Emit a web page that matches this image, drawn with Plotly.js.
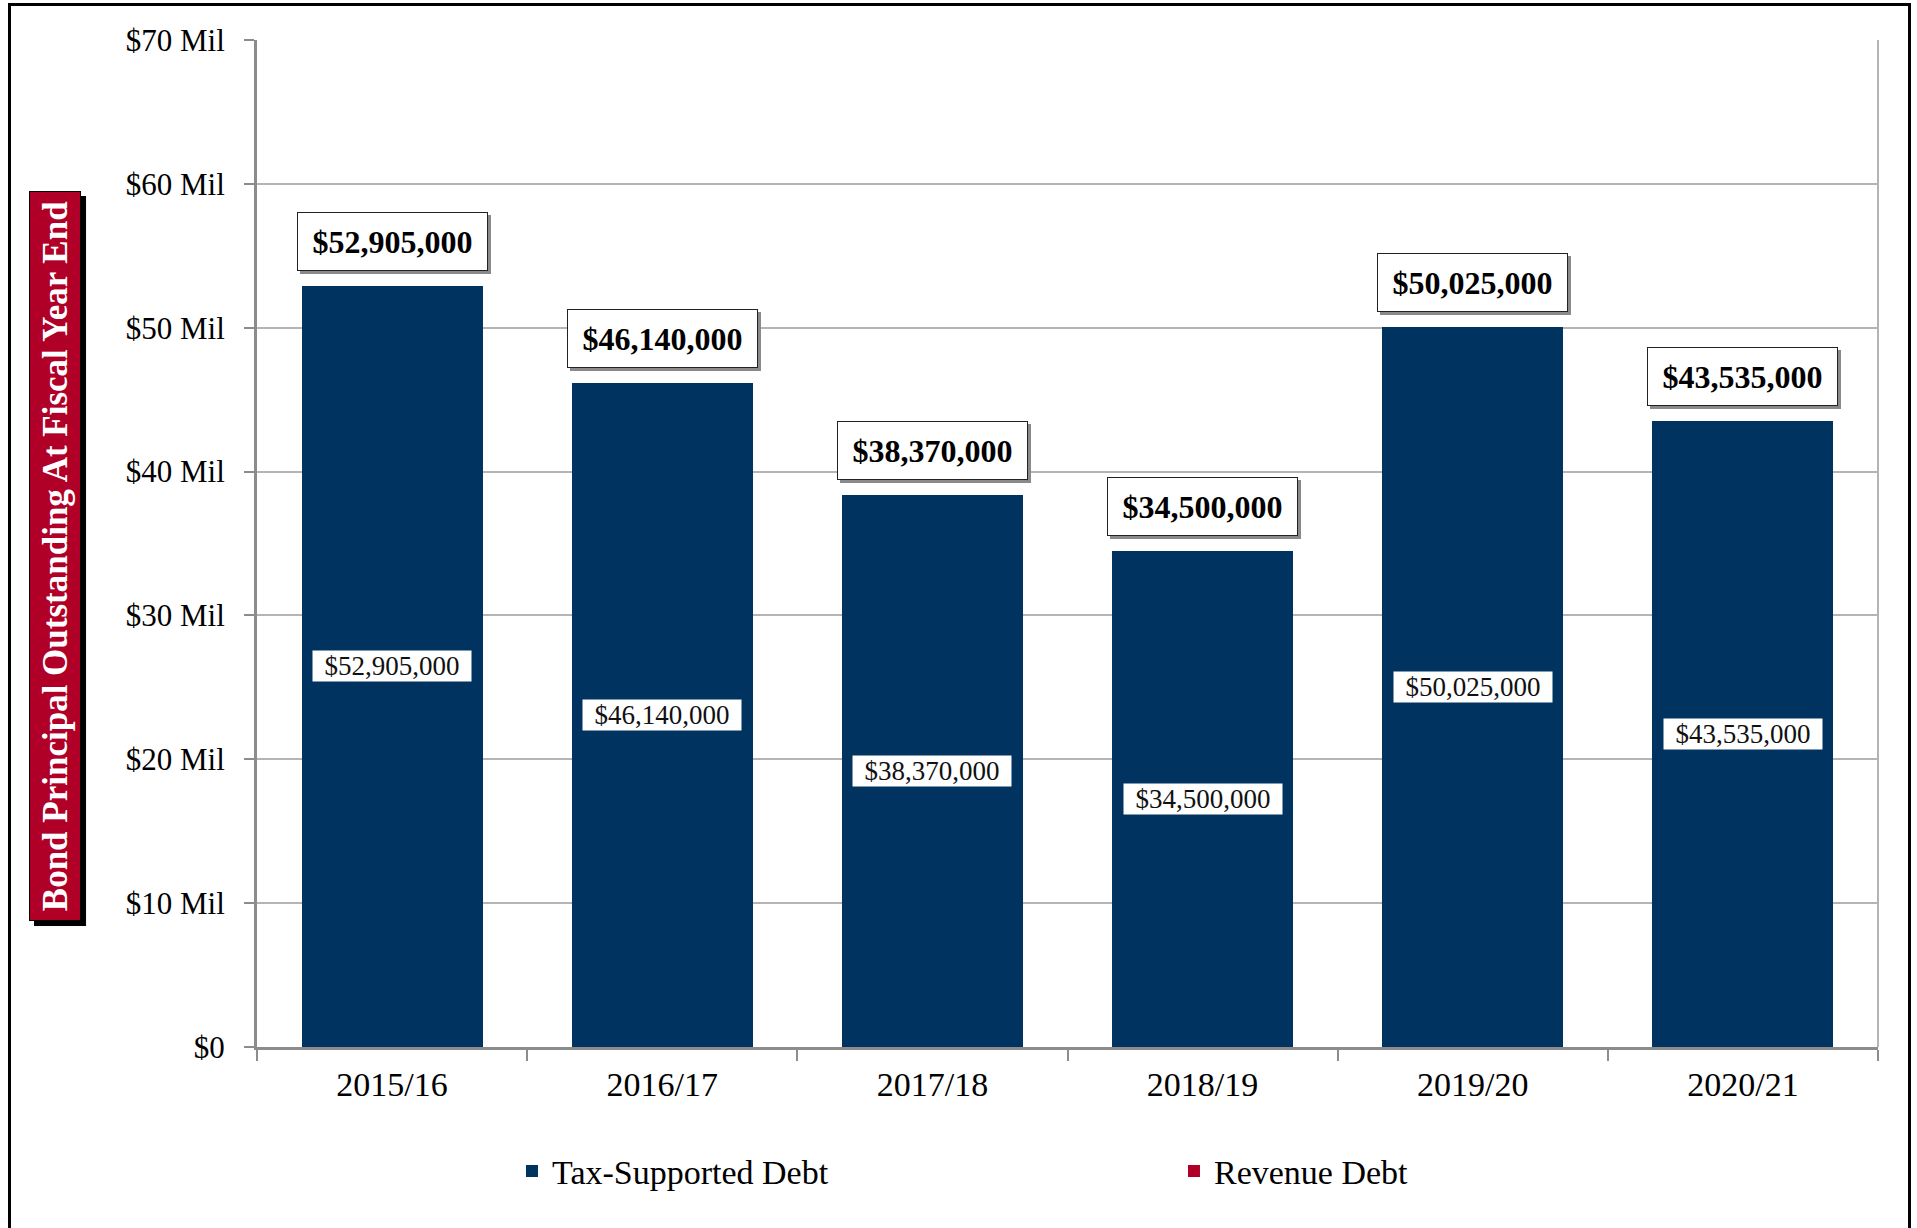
<!DOCTYPE html>
<html>
<head>
<meta charset="utf-8">
<script src="https://cdn.plot.ly/plotly-3.0.1.min.js"></script>
<style>
html,body{margin:0;padding:0;background:#fff;}
#wrap{position:relative;width:1917px;height:1228px;overflow:hidden;}
#chart{position:absolute;left:0;top:0;width:1917px;height:1228px;}
#frame{position:absolute;left:8px;top:3px;width:1897px;height:1240px;border:3px solid #000;pointer-events:none;}
</style>
</head>
<body>
<div id="wrap"><div id="chart"></div><div id="frame"></div></div>
<script>
const categories = ["2015/16","2016/17","2017/18","2018/19","2019/20","2020/21"];
const taxSupported = [52905000, 46140000, 38370000, 34500000, 50025000, 43535000];
const revenueDebt = [0, 0, 0, 0, 0, 0];
const totals = [52905000, 46140000, 38370000, 34500000, 50025000, 43535000];
const yTickVals = [0, 10000000, 20000000, 30000000, 40000000, 50000000, 60000000, 70000000];
const yTickText = ["$0","$10 Mil","$20 Mil","$30 Mil","$40 Mil","$50 Mil","$60 Mil","$70 Mil"];
const yTitle = "Bond Principal Outstanding At Fiscal Year End";

const NAVY = "#00335f", RED = "#b00028";
const SERIF = "Liberation Serif, Times New Roman, serif";
const fmt = v => "$" + v.toLocaleString("en-US");

const traces = [
  {type:"bar", name:"Tax-Supported Debt", x:categories, y:taxSupported,
   marker:{color:NAVY}, hoverinfo:"x+y"},
  {type:"bar", name:"Revenue Debt", x:categories, y:revenueDebt,
   marker:{color:RED}, hoverinfo:"x+y"}
];

const annotations = [];
categories.forEach((c,i)=>{
  // inner label
  annotations.push({x:c, y:taxSupported[i]/2, xref:"x", yref:"y", text:fmt(taxSupported[i]),
    showarrow:false, bgcolor:"#fff", width:156, height:28, borderpad:1,
    font:{family:SERIF, size:27, color:"#111"}});
  // top label shadow
  annotations.push({x:c, y:totals[i], xref:"x", yref:"y", yanchor:"bottom", yshift:12, xshift:3,
    text:fmt(totals[i]), showarrow:false, bgcolor:"#8a8a8a", bordercolor:"#8a8a8a", borderwidth:1,
    width:187, height:55, font:{family:SERIF, size:32, color:"#8a8a8a"}});
  // top label
  annotations.push({x:c, y:totals[i], xref:"x", yref:"y", yanchor:"bottom", yshift:15,
    text:"<b>"+fmt(totals[i])+"</b>", showarrow:false, bgcolor:"#fff", bordercolor:"#222", borderwidth:1,
    width:187, height:55, font:{family:SERIF, size:32, color:"#000"}});
});
// y title with shadow
const titleX = -0.1246, titleY = 0.4876;
annotations.push({xref:"paper", yref:"paper", x:titleX, y:titleY, xanchor:"center", yanchor:"middle", xshift:5, yshift:-5,
  text:"<b>"+yTitle+"</b>", textangle:-90, showarrow:false, bgcolor:"#000", bordercolor:"#000", borderwidth:1,
  width:726, height:48, font:{family:SERIF, size:35, color:"#000"}});
annotations.push({xref:"paper", yref:"paper", x:titleX, y:titleY, xanchor:"center", yanchor:"middle",
  text:"<b>"+yTitle+"</b>", textangle:-90, showarrow:false, bgcolor:RED, bordercolor:"#000", borderwidth:1,
  width:726, height:48, font:{family:SERIF, size:35, color:"#fff"}});

const layout = {
  width:1917, height:1228,
  margin:{l:257, r:39, t:40, b:181},
  paper_bgcolor:"#fff", plot_bgcolor:"#fff",
  barmode:"stack", bargap:0.33,
  font:{family:SERIF, size:31, color:"#000"},
  xaxis:{type:"category", showline:true, linecolor:"#8c8c8c", linewidth:3,
    ticks:"outside", tickson:"boundaries", ticklen:11, tickwidth:2, tickcolor:"#8c8c8c",
    ticklabelstandoff:5, tickfont:{family:SERIF, size:34, color:"#000"}, showgrid:false, zeroline:false},
  yaxis:{range:[0,70000000], tickvals:yTickVals, ticktext:yTickText, showline:true, linecolor:"#8c8c8c", linewidth:3,
    ticks:"outside", ticklen:10, tickwidth:2, tickcolor:"#8c8c8c", ticklabelstandoff:13,
    showgrid:true, gridcolor:"#b4b4b4", gridwidth:1.5, zeroline:false,
    tickfont:{family:SERIF, size:31, color:"#000"}},
  showlegend:true,
  legend:{orientation:"h", x:0.1573, xanchor:"left", y:-0.1235, yanchor:"middle",
    entrywidth:617, entrywidthmode:"pixels", font:{family:SERIF, size:34, color:"#000"},
    traceorder:"normal", bgcolor:"rgba(0,0,0,0)"},
  shapes:[{type:"line", xref:"paper", yref:"paper", x0:1, x1:1, y0:0, y1:1, line:{color:"#b4b4b4", width:2}}],
  annotations:annotations
};
Plotly.newPlot("chart", traces, layout, {displayModeBar:false, staticPlot:false});
</script>
</body>
</html>
